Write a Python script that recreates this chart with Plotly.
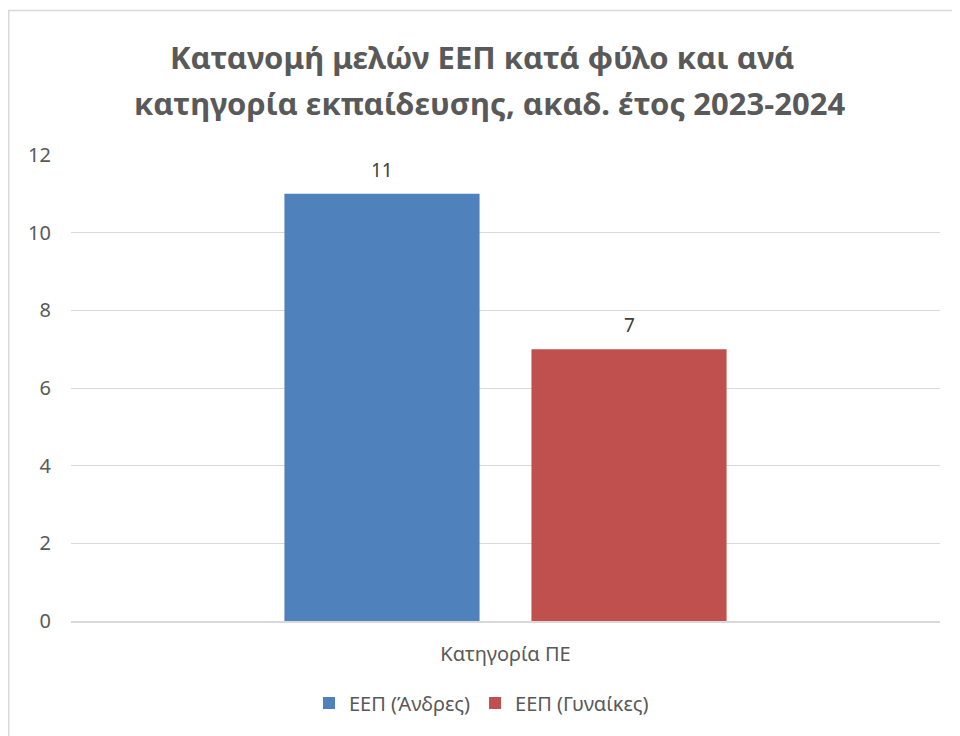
import plotly.graph_objects as go

categories = ["Κατηγορία ΠΕ"]
men = [11]
women = [7]
series_names = ["ΕΕΠ (Άνδρες)", "ΕΕΠ (Γυναίκες)"]
title_lines = ["Κατανομή μελών ΕΕΠ κατά φύλο και ανά", "κατηγορία εκπαίδευσης, ακαδ. έτος 2023-2024"]

FONT = "Noto Sans"
W, H = 952, 728          # page has an 8px body margin
L, R, T, B = 63, 20, 147, 115
pw, ph = W - L - R, H - T - B
GREY = "#595959"

def py(fig_y):
    """figure pixel y -> paper coordinate"""
    return (T + ph - fig_y) / ph

def px(fig_x):
    return (fig_x - L) / pw

series = [(series_names[0], men, "#4f81bd", -123.5), (series_names[1], women, "#c0504d", 123.5)]

fig = go.Figure()
annotations = []
for name, vals, col, shift in series:
    fig.add_trace(go.Bar(x=categories, y=vals, name=name, marker_color=col, marker_line_width=0))
    for c, v in zip(categories, vals):
        annotations.append(dict(x=c, y=v, xref="x", yref="y", text=str(v), showarrow=False,
                                xshift=shift, yshift=24, yanchor="middle",
                                font=dict(size=19, color="#404040", family=FONT)))

for i, line in enumerate(title_lines):
    annotations.append(dict(x=px([474, 481][i]), y=py([49, 95][i]), xref="paper", yref="paper",
                            text="<b>" + line + "</b>", showarrow=False,
                            xanchor="center", yanchor="middle",
                            font=dict(size=31, color=GREY, family=FONT)))

fig.update_layout(
    width=W, height=H,
    margin=dict(l=L, r=R, t=T, b=B),
    paper_bgcolor="white", plot_bgcolor="white",
    font=dict(family=FONT, color=GREY, size=19),
    barmode="group", bargap=0.4315, bargroupgap=0.21,
    showlegend=True,
    legend=dict(orientation="h", x=px(473.5), xanchor="center", y=py(695),
                yanchor="middle", font=dict(size=20, color=GREY, family=FONT),
                tracegroupgap=0),
    xaxis=dict(showgrid=False, showline=True, linecolor="#d9d9d9", linewidth=1.5,
               ticks="", ticklabelstandoff=14, tickfont=dict(size=20, color=GREY)),
    yaxis=dict(range=[0, 12], dtick=2, showgrid=True, gridcolor="#d9d9d9", gridwidth=1.2,
               zeroline=False, showline=False, ticks="", ticklabelstandoff=19,
               tickfont=dict(size=20, color=GREY)),
    annotations=annotations,
    shapes=[dict(type="rect", xref="paper", yref="paper",
                 x0=px(0.75), x1=px(W + 10),
                 y0=py(H + 10), y1=py(2.5),
                 line=dict(color="#d9d9d9", width=1.5), fillcolor="rgba(0,0,0,0)", layer="below")],
)

fig.write_html("out.html")
